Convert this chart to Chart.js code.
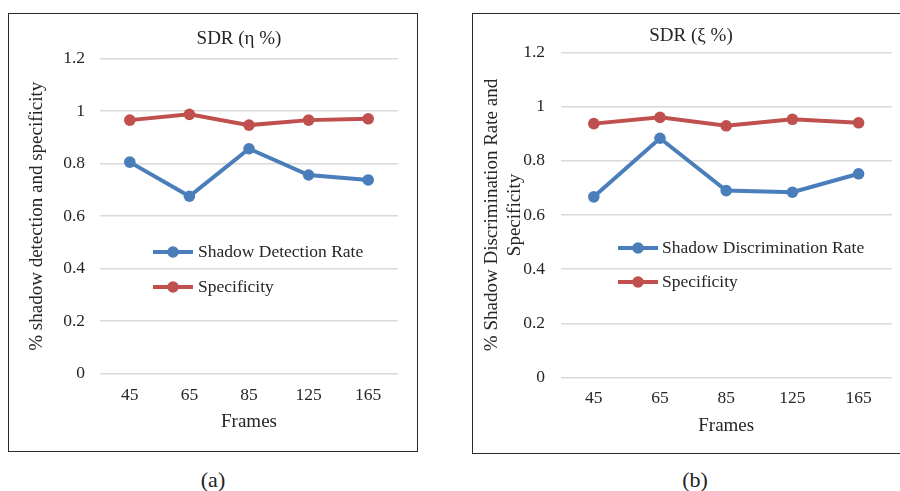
<!DOCTYPE html>
<html lang="en">
<head>
  <meta charset="UTF-8"/>
  <title>SDR (η %) and SDR (ξ %)</title>
  <script src="https://cdn.jsdelivr.net/npm/chart.js"></script>
  <style>
    body{margin:0;width:900px;height:491px;overflow:hidden;background:#fff;position:relative;font-family:'Liberation Serif',serif;}
    .frame{position:absolute;border:1.5px solid #2a2a2a;box-sizing:border-box;}
    canvas{position:absolute;}
    .cap{position:absolute;top:480px;transform:translate(-50%,-50%);font-size:22px;color:#222;}
  </style>
</head>
<body>
<div class="frame" style="left:8px;top:13px;width:410px;height:439px"></div>
<div class="frame" style="left:472px;top:13px;width:440px;height:441px"></div>
<canvas id="chartA" width="408" height="437" style="left:9px;top:14px"></canvas>
<canvas id="chartB" width="427" height="439" style="left:473px;top:14px"></canvas>
<div class="cap" style="left:213px">(a)</div>
<div class="cap" style="left:695px">(b)</div>

<script>
  // data
  const frames = ['45', '65', '85', '125', '165'];
  const yTicks = [0, 0.2, 0.4, 0.6, 0.8, 1, 1.2];
  const yTickLabels = ['0', '0.2', '0.4', '0.6', '0.8', '1', '1.2'];
  const detectionRate = [0.806, 0.676, 0.857, 0.757, 0.738];
  const specificityA = [0.966, 0.988, 0.947, 0.966, 0.971];
  const discriminationRate = [0.667, 0.883, 0.690, 0.684, 0.752];
  const specificityB = [0.937, 0.960, 0.929, 0.953, 0.940];

  const BLUE = '#4a7ebb', RED = '#c0504d', TEXT = '#262626', SERIF = "'Liberation Serif', serif";
  Chart.defaults.font.family = SERIF;
  Chart.defaults.color = TEXT;

  // title + Excel-style legend (line with marker) drawn inside the plot
  const decor = {
    id: 'decor',
    afterDatasetsDraw(chart, args, o) {
      const ctx = chart.ctx;
      ctx.save();
      ctx.fillStyle = TEXT;
      ctx.font = '19px ' + SERIF;
      ctx.textAlign = 'center'; ctx.textBaseline = 'middle';
      ctx.fillText(o.title, o.titleX, o.titleY);
      ctx.font = '17.5px ' + SERIF;
      ctx.textAlign = 'left';
      chart.data.datasets.forEach((ds, i) => {
        const y = o.legendY[i];
        ctx.strokeStyle = ds.borderColor; ctx.lineWidth = ds.borderWidth;
        ctx.beginPath(); ctx.moveTo(o.legendX, y); ctx.lineTo(o.legendX + o.legendLen, y); ctx.stroke();
        ctx.fillStyle = ds.borderColor;
        ctx.beginPath(); ctx.arc(o.legendX + o.legendLen / 2, y, ds.pointRadius, 0, Math.PI * 2); ctx.fill();
        ctx.fillStyle = TEXT;
        ctx.fillText(ds.label, o.legendX + o.legendLen + o.legendGap, y);
      });
      ctx.restore();
    }
  };

  function series(label, data, color) {
    return {label, data, borderColor: color, backgroundColor: color, borderWidth: 4,
      pointRadius: 5.8, pointHoverRadius: 5.8, pointBorderWidth: 0, tension: 0};
  }

  function makeChart(id, datasets, yTitle, lay) {
    return new Chart(document.getElementById(id), {
      type: 'line',
      data: {labels: frames, datasets},
      plugins: [decor],
      options: {
        responsive: false, animation: false,
        layout: {padding: {top: lay.top, right: lay.right, bottom: 0, left: 0}},
        plugins: {legend: {display: false}, title: {display: false}, tooltip: {enabled: false}, decor: lay.decor},
        scales: {
          x: {
            offset: true,
            grid: {display: false, drawTicks: false},
            border: {display: false},
            ticks: {color: TEXT, font: {family: SERIF, size: 17.5, lineHeight: 1.2}, padding: lay.xTickPad},
            title: {display: true, text: 'Frames', color: TEXT, font: {family: SERIF, size: 19, lineHeight: 1.2}, padding: {top: 0, bottom: lay.xTitlePad}},
            afterFit: s => { s.height = lay.xHeight; }
          },
          y: {
            min: 0, max: 1.2,
            afterBuildTicks: s => { s.ticks = yTicks.map(v => ({value: v})); },
            grid: {color: '#d9d9d9', lineWidth: 1.5, drawTicks: false},
            border: {display: false},
            ticks: {color: TEXT, font: {family: SERIF, size: 17.5}, padding: lay.yTickPad,
              callback: (v, i) => yTickLabels[i]},
            title: {display: true, text: yTitle, color: TEXT, font: {family: SERIF, size: 19, lineHeight: 1.23}, padding: {top: lay.yTitlePad, bottom: 0}},
            afterFit: s => { s.width = lay.yWidth; }
          }
        }
      }
    });
  }

  makeChart('chartA', [
    series('Shadow Detection Rate', detectionRate, BLUE),
    series('Specificity', specificityA, RED)
  ], '% shadow detection and specificity', {
    top: 44.7, right: 19, yWidth: 91, xHeight: 77.3,
    xTickPad: 11, xTitlePad: 17.6, yTickPad: 15, yTitlePad: 16.6,
    decor: {title: 'SDR (η %)', titleX: 230, titleY: 25, legendX: 144, legendY: [238, 273], legendLen: 40, legendGap: 5}
  });

  makeChart('chartB', [
    series('Shadow Discrimination Rate', discriminationRate, BLUE),
    series('Specificity', specificityB, RED)
  ], ['% Shadow Discrimination Rate and', 'Specificity'], {
    top: 38.3, right: 8.3, yWidth: 87.7, xHeight: 75.3,
    xTickPad: 10, xTitlePad: 15.9, yTickPad: 15.7, yTitlePad: 7,
    decor: {title: 'SDR (ξ %)', titleX: 218, titleY: 22, legendX: 145, legendY: [234, 268], legendLen: 40, legendGap: 4}
  });
</script>
</body>
</html>
